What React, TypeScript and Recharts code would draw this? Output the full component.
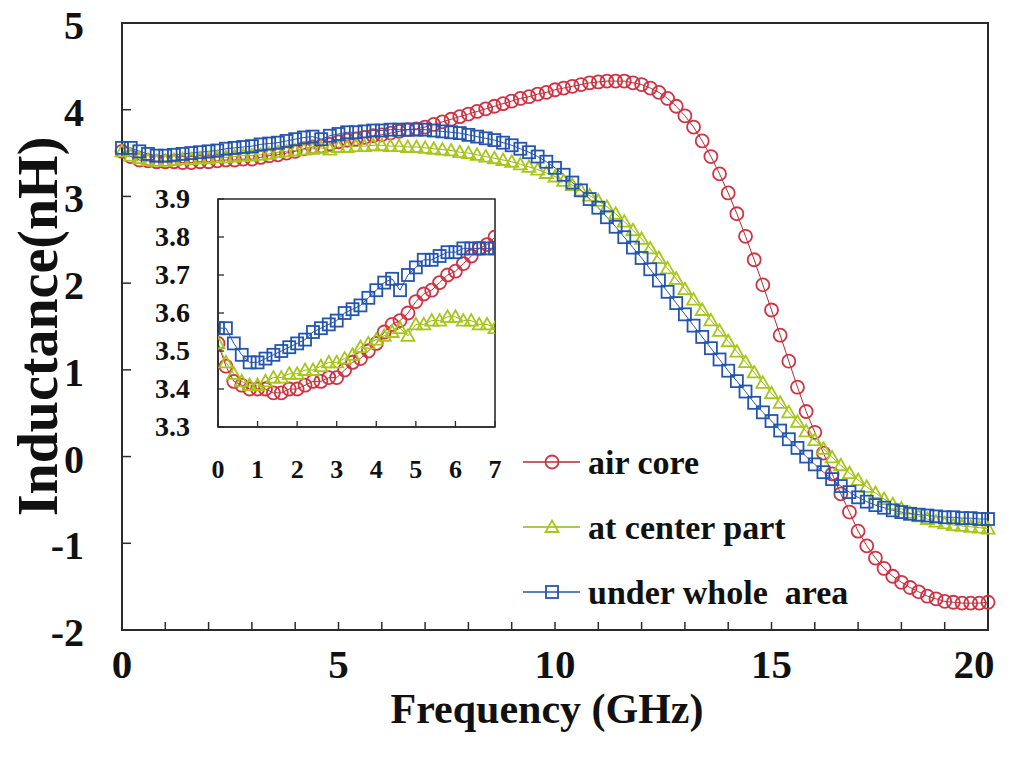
import React from 'react';
import { Label, Legend, Line, LineChart, ReferenceArea, XAxis, YAxis } from 'recharts';

// frequency points (GHz), 0.2 GHz step as in the measurement
const freq = [
	0, 0.2, 0.4, 0.6, 0.8, 1, 1.2, 1.4, 1.6, 1.8, 2, 2.2, 2.4, 2.6, 2.8, 3, 3.2, 3.4, 3.6, 3.8,
	4, 4.2, 4.4, 4.6, 4.8, 5, 5.2, 5.4, 5.6, 5.8, 6, 6.2, 6.4, 6.6, 6.8, 7, 7.2, 7.4, 7.6, 7.8,
	8, 8.2, 8.4, 8.6, 8.8, 9, 9.2, 9.4, 9.6, 9.8, 10, 10.2, 10.4, 10.6, 10.8, 11, 11.2, 11.4, 11.6, 11.8,
	12, 12.2, 12.4, 12.6, 12.8, 13, 13.2, 13.4, 13.6, 13.8, 14, 14.2, 14.4, 14.6, 14.8, 15, 15.2, 15.4, 15.6, 15.8,
	16, 16.2, 16.4, 16.6, 16.8, 17, 17.2, 17.4, 17.6, 17.8, 18, 18.2, 18.4, 18.6, 18.8, 19, 19.2, 19.4, 19.6, 19.8, 20
];

const airCore = [
	3.52, 3.46, 3.42, 3.41, 3.4, 3.4, 3.4, 3.39, 3.39, 3.4, 3.4, 3.41, 3.42, 3.42, 3.43, 3.43, 3.45, 3.47, 3.48, 3.5,
	3.52, 3.55, 3.57, 3.58, 3.6, 3.63, 3.65, 3.66, 3.68, 3.7, 3.71, 3.73, 3.75, 3.77, 3.78, 3.8, 3.83, 3.86, 3.89, 3.92,
	3.95, 3.98, 4.01, 4.04, 4.07, 4.1, 4.13, 4.15, 4.18, 4.2, 4.23, 4.25, 4.27, 4.29, 4.31, 4.32, 4.33, 4.33, 4.33, 4.31,
	4.29, 4.25, 4.2, 4.13, 4.04, 3.93, 3.8, 3.64, 3.46, 3.26, 3.04, 2.8, 2.54, 2.27, 1.98, 1.69, 1.4, 1.1, 0.8, 0.52,
	0.28, 0.04, -0.2, -0.43, -0.64, -0.86, -1.03, -1.17, -1.29, -1.38, -1.45, -1.51, -1.56, -1.61, -1.64, -1.67, -1.68, -1.69, -1.69, -1.69, -1.68
];

const centerPart = [
	3.52, 3.47, 3.44, 3.42, 3.41, 3.41, 3.42, 3.43, 3.43, 3.44, 3.44, 3.45, 3.45, 3.46, 3.47, 3.47, 3.48, 3.49, 3.51, 3.52,
	3.53, 3.54, 3.55, 3.56, 3.54, 3.57, 3.57, 3.58, 3.58, 3.59, 3.59, 3.58, 3.58, 3.57, 3.57, 3.56, 3.55, 3.54, 3.53, 3.51,
	3.5, 3.48, 3.46, 3.44, 3.42, 3.4, 3.37, 3.34, 3.31, 3.27, 3.23, 3.18, 3.13, 3.07, 3.01, 2.95, 2.88, 2.8, 2.71, 2.61,
	2.51, 2.4, 2.29, 2.17, 2.05, 1.93, 1.81, 1.69, 1.57, 1.45, 1.33, 1.21, 1.09, 0.97, 0.85, 0.73, 0.62, 0.51, 0.4, 0.29,
	0.19, 0.09, -0.01, -0.1, -0.19, -0.27, -0.35, -0.42, -0.49, -0.55, -0.6, -0.65, -0.69, -0.72, -0.75, -0.77, -0.79, -0.8, -0.81, -0.82, -0.83
];

const wholeArea = [
	3.56, 3.56, 3.52, 3.49, 3.47, 3.47, 3.48, 3.49, 3.5, 3.51, 3.52, 3.53, 3.55, 3.56, 3.57, 3.58, 3.6, 3.61, 3.62, 3.64,
	3.66, 3.68, 3.69, 3.66, 3.7, 3.72, 3.74, 3.74, 3.75, 3.76, 3.76, 3.77, 3.77, 3.77, 3.77, 3.77, 3.76, 3.75, 3.74, 3.73,
	3.71, 3.69, 3.67, 3.65, 3.62, 3.59, 3.55, 3.51, 3.46, 3.4, 3.33, 3.25, 3.16, 3.07, 2.97, 2.87, 2.76, 2.65, 2.53, 2.41,
	2.29, 2.16, 2.03, 1.9, 1.77, 1.64, 1.51, 1.38, 1.25, 1.12, 0.99, 0.87, 0.75, 0.62, 0.51, 0.41, 0.3, 0.2, 0.1, 0,
	-0.09, -0.18, -0.26, -0.34, -0.41, -0.47, -0.52, -0.56, -0.59, -0.62, -0.64, -0.66, -0.67, -0.68, -0.69, -0.7, -0.7, -0.71, -0.71, -0.72, -0.72
];

const mainXTicks = [0, 1, 2, 3, 4, 5, 6, 7, 8, 9, 10, 11, 12, 13, 14, 15, 16, 17, 18, 19, 20];
const mainXLabels = [0, 5, 10, 15, 20];
const mainYTicks = [-2, -1, 0, 1, 2, 3, 4, 5];
const insetXTicks = [0, 1, 2, 3, 4, 5, 6, 7];
const insetYTicks = [3.3, 3.4, 3.5, 3.6, 3.7, 3.8, 3.9];

const SERIF = '"Liberation Serif", "Times New Roman", serif';
const AXIS = '#2b2b2b';

const series = [
	{ key: 'air', name: 'air core', color: '#cf3444', line: '#b02c36', marker: 'circle' },
	{ key: 'center', name: 'at center part', color: '#a8c61a', line: '#94b416', marker: 'triangle' },
	{ key: 'whole', name: 'under whole  area', color: '#2455ad', line: '#2455ad', marker: 'square' }
];

const rows = freq.map((f, i) => ({ f, air: airCore[i], center: centerPart[i], whole: wholeArea[i] }));
const insetRows = rows.filter((r) => r.f <= 7);

const Marker = ({ kind, cx, cy, color }: { kind: string; cx: number; cy: number; color: string }) => {
	if (kind === 'circle') return <circle cx={cx} cy={cy} r={6.5} fill='none' stroke={color} strokeWidth={1.8} />;
	if (kind === 'triangle')
		return <path d={`M${cx},${cy - 6.5} L${cx + 6.5},${cy + 5} L${cx - 6.5},${cy + 5} Z`} fill='none' stroke={color} strokeWidth={1.8} />;
	return <rect x={cx - 6} y={cy - 6} width={12} height={12} fill='none' stroke={color} strokeWidth={1.8} />;
};

const dotFor = (kind: string, color: string) => (props: any) => {
	const { cx, cy, index } = props;
	if (cx == null || cy == null) return <g key={`d-${kind}-${index}`} />;
	return (
		<g key={`d-${kind}-${index}`}>
			<Marker kind={kind} cx={cx} cy={cy} color={color} />
		</g>
	);
};

const MainXTick = (props: any) => {
	const { x, y, payload } = props;
	const v = payload.value;
	return (
		<g>
			<line x1={x} x2={x} y1={y} y2={y - 8} stroke={AXIS} strokeWidth={1.5} />
			{mainXLabels.includes(v) && (
				<text x={v === 20 ? x - 14 : x} y={y + 48} textAnchor='middle' fontFamily={SERIF} fontWeight='bold' fontSize={41} fill='#111'>
					{v}
				</text>
			)}
		</g>
	);
};

const MainYTick = (props: any) => {
	const { x, y, payload } = props;
	return (
		<g>
			<line x1={x} x2={x + 9} y1={y} y2={y} stroke={AXIS} strokeWidth={1.5} />
			<text x={x - 38} y={y + 16} textAnchor='end' fontFamily={SERIF} fontWeight='bold' fontSize={40} fill='#111'>
				{payload.value}
			</text>
		</g>
	);
};

const InsetXTick = (props: any) => {
	const { x, y, payload } = props;
	return (
		<g>
			<line x1={x} x2={x} y1={y} y2={y - 6} stroke={AXIS} strokeWidth={1.3} />
			<text x={x} y={y + 51} textAnchor='middle' fontFamily={SERIF} fontWeight='bold' fontSize={26} fill='#111'>
				{payload.value}
			</text>
		</g>
	);
};

const InsetYTick = (props: any) => {
	const { x, y, payload } = props;
	return (
		<g>
			<line x1={x} x2={x + 6} y1={y} y2={y} stroke={AXIS} strokeWidth={1.3} />
			<text x={x - 28} y={y + 9} textAnchor='end' fontFamily={SERIF} fontWeight='bold' fontSize={28} fill='#111'>
				{Number(payload.value).toFixed(1)}
			</text>
		</g>
	);
};

const renderLegend = (props: any) => {
	const { payload } = props;
	const rowY = [32, 97, 162];
	return (
		<svg width={380} height={200}>
			{(payload || []).map((entry: any, i: number) => {
				const meta = series.find((s) => s.key === entry.dataKey) || series[i];
				const y = rowY[i];
				return (
					<g key={meta.key}>
						<line x1={8} x2={65} y1={y} y2={y} stroke={meta.line} strokeWidth={1.4} />
						<Marker kind={meta.marker} cx={37} cy={y} color={meta.color} />
						<text x={73} y={y + 12} fontFamily={SERIF} fontWeight='bold' fontSize={34} fill='#111' style={{ whiteSpace: 'pre' }}>
							{entry.value}
						</text>
					</g>
				);
			})}
		</svg>
	);
};

export default function App() {
	return (
		<div style={{ position: 'absolute', left: 0, top: 0, width: 1017, height: 757, background: '#fff' }}>
			<LineChart width={1017} height={757} data={rows} margin={{ top: 23, right: 29, left: 0, bottom: 0 }}>
				<XAxis
					dataKey='f'
					type='number'
					domain={[0, 20]}
					ticks={mainXTicks}
					interval={0}
					tick={<MainXTick />}
					tickLine={false}
					tickSize={0}
					tickMargin={0}
					axisLine={{ stroke: AXIS, strokeWidth: 2 }}
					height={127}
				>
					<Label
						content={(p: any) => {
							const vb = p.viewBox || { x: 122, y: 630, width: 866 };
							return (
								<text
									x={vb.x + vb.width / 2 - 8}
									y={vb.y + 93}
									textAnchor='middle'
									fontFamily={SERIF}
									fontWeight='bold'
									fontSize={42}
									fill='#111'
								>
									Frequency (GHz)
								</text>
							);
						}}
					/>
				</XAxis>
				<YAxis
					type='number'
					domain={[-2, 5]}
					ticks={mainYTicks}
					interval={0}
					tick={<MainYTick />}
					tickLine={false}
					tickSize={0}
					tickMargin={0}
					axisLine={{ stroke: AXIS, strokeWidth: 2 }}
					width={122}
				>
					<Label
						content={(p: any) => {
							const vb = p.viewBox || { y: 23, height: 607 };
							const cx = 37;
							const cy = vb.y + vb.height / 2;
							return (
								<text
									x={cx}
									y={cy}
									dy='0.35em'
									textAnchor='middle'
									transform={`rotate(-90, ${cx}, ${cy})`}
									fontFamily={SERIF}
									fontWeight='bold'
									fontSize={56}
									fill='#111'
								>
									Inductance(nH)
								</text>
							);
						}}
					/>
				</YAxis>
				<ReferenceArea x1={0} x2={20} y1={-2} y2={5} fill='none' stroke={AXIS} strokeWidth={2} ifOverflow='visible' />
				{series.map((s) => (
					<Line
						key={s.key}
						dataKey={s.key}
						name={s.name}
						type='linear'
						stroke={s.line}
						strokeWidth={1}
						dot={dotFor(s.marker, s.color)}
						activeDot={false}
						isAnimationActive={false}
					/>
				))}
				<Legend
					layout='vertical'
					align='center'
					verticalAlign='middle'
					content={renderLegend}
					wrapperStyle={{ position: 'absolute', left: 515, top: 430, width: 380, height: 200 }}
				/>
			</LineChart>
			<div style={{ position: 'absolute', left: 150, top: 175 }}>
				<LineChart width={355} height={315} data={insetRows} margin={{ top: 24, right: 10, left: 0, bottom: 0 }}>
					<XAxis
						dataKey='f'
						type='number'
						domain={[0, 7]}
						ticks={insetXTicks}
						interval={0}
						tick={<InsetXTick />}
						tickLine={false}
						tickSize={0}
						tickMargin={0}
						axisLine={{ stroke: AXIS, strokeWidth: 1.6 }}
						height={63}
						allowDataOverflow
					/>
					<YAxis
						type='number'
						domain={[3.3, 3.9]}
						ticks={insetYTicks}
						interval={0}
						tick={<InsetYTick />}
						tickLine={false}
						tickSize={0}
						tickMargin={0}
						axisLine={{ stroke: AXIS, strokeWidth: 1.6 }}
						width={68}
						allowDataOverflow
					/>
					<ReferenceArea x1={0} x2={7} y1={3.3} y2={3.9} fill='#fff' fillOpacity={1} stroke={AXIS} strokeWidth={1.6} ifOverflow='visible' />
					{series.map((s) => (
						<Line
							key={s.key}
							dataKey={s.key}
							name={s.name}
							type='linear'
							stroke={s.line}
							strokeWidth={1}
							dot={dotFor(s.marker, s.color)}
							activeDot={false}
							legendType='none'
							isAnimationActive={false}
						/>
					))}
				</LineChart>
			</div>
		</div>
	);
}
